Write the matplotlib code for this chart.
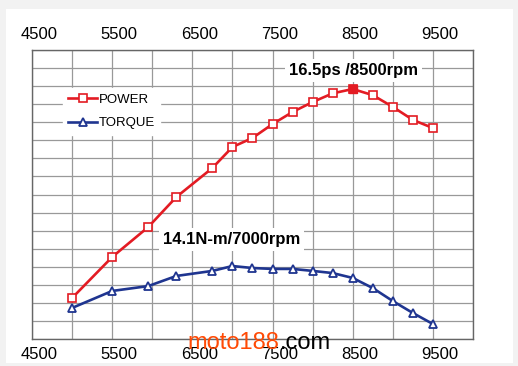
import matplotlib.pyplot as plt
import matplotlib.transforms as mtransforms
from matplotlib.patches import Rectangle

# rpm sample points and curve heights (in grid units, axis has no y labels)
rpm = [5000, 5500, 5950, 6300, 6750, 7000, 7250, 7500, 7750, 8000, 8250, 8500, 8750, 9000, 9250, 9500]
power = [2.27, 4.54, 6.2, 7.86, 9.47, 10.63, 11.13, 11.9, 12.57, 13.12, 13.6, 13.84, 13.5, 12.85, 12.13, 11.68]
torque = [1.72, 2.66, 2.93, 3.49, 3.77, 4.04, 3.93, 3.88, 3.88, 3.77, 3.65, 3.38, 2.82, 2.1, 1.44, 0.83]
xticks = [4500, 5500, 6500, 7500, 8500, 9500]
peak_power = "16.5ps /8500rpm"
peak_torque = "14.1N-m/7000rpm"

sans = ['Liberation Sans', 'DejaVu Sans']
red = '#e31b23'
blue = '#1f3590'

fig = plt.figure(figsize=(5.18, 3.66), dpi=100, facecolor='#f2f2f2')
fig.patches.append(Rectangle((6/518, 3/366), 507/518, 354/366, transform=fig.transFigure,
                             facecolor='white', edgecolor='none', zorder=-5))
ax = fig.add_axes([32/518, 27/366, 441/518, 289/366])
ax.set_facecolor('white')

ax.set_xlim(4500, 10000)
ax.set_ylim(0, 16)
ax.set_xticks(range(4500, 10001, 500), minor=True)
ax.set_xticks(xticks)
ax.set_xticklabels([str(t) for t in xticks], family=sans, fontsize=12)
ax.set_yticks(range(0, 17))
ax.set_yticklabels([])
ax.grid(True, which='both', color='#999999', lw=0.9)
ax.tick_params(axis='x', which='both', length=0, top=True, labeltop=True, pad=6)
ax.tick_params(axis='y', length=0)
for s in ax.spines.values():
    s.set_color('#666666')
    s.set_linewidth(1.0)

# labels sit a bit right of their grid lines
off = mtransforms.ScaledTranslation(7/100, 0, fig.dpi_scale_trans)
for t in ax.xaxis.get_major_ticks():
    t.label1.set_transform(t.label1.get_transform() + off)
    t.label2.set_transform(t.label2.get_transform() + off)

ax.plot(rpm, power, color=red, lw=1.9, marker='s', ms=5.5, mfc='white', mec=red, mew=1.2,
        label='POWER', zorder=3)
ax.plot([8500], [power[rpm.index(8500)]], ls='none', marker='s', ms=5.5, color=red, zorder=4)
ax.plot(rpm, torque, color=blue, lw=1.9, marker='^', ms=6, mfc='white', mec=blue, mew=1.3,
        label='TORQUE', zorder=3)

ax.text(8510, 14.85, peak_power, ha='center', va='center', fontsize=12, fontweight='bold',
        family=sans, bbox=dict(facecolor='white', edgecolor='none', pad=3), zorder=5)
ax.text(6990, 5.5, peak_torque, ha='center', va='center', fontsize=12, fontweight='bold',
        family=sans, bbox=dict(facecolor='white', edgecolor='none', pad=3), zorder=5)

leg = ax.legend(loc='upper left', bbox_to_anchor=(0.055, 0.89), frameon=True, fancybox=False,
                edgecolor='white', framealpha=1, handlelength=2.2, handletextpad=0.1,
                labelspacing=0.85, prop={'family': sans, 'size': 9.5})

# site watermark
fig.text(187/518, 1 - 343/366, 'moto188', color='#ff4a05', fontsize=17, ha='left', va='center',
         family=sans)
fig.text(280/518, 1 - 343/366, '.com', color='black', fontsize=17, ha='left', va='center',
         family=sans)

fig.savefig('out.png', dpi=100, facecolor=fig.get_facecolor())
